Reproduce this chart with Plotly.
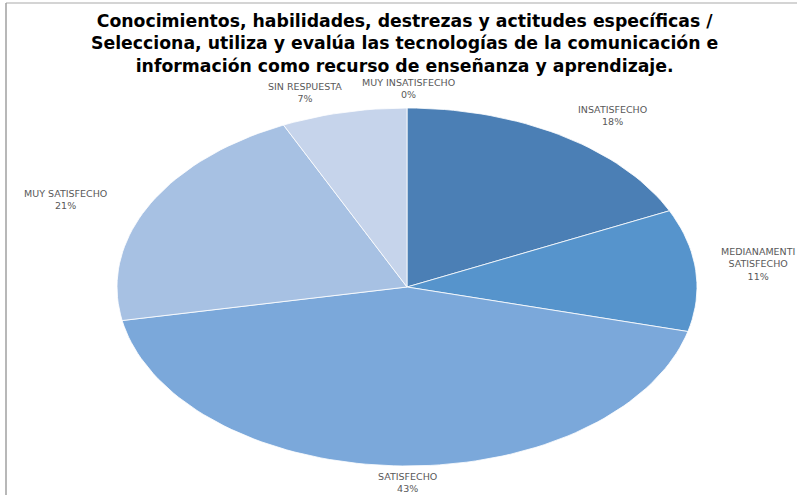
import numpy as np
import plotly.graph_objects as go

# data (clockwise from 12 o'clock)
categories = ['MUY INSATISFECHO', 'INSATISFECHO', 'MEDIANAMENTE SATISFECHO',
              'SATISFECHO', 'MUY SATISFECHO', 'SIN RESPUESTA']
label_text = ['MUY INSATISFECHO', 'INSATISFECHO', 'MEDIANAMENTI<br>SATISFECHO',
              'SATISFECHO', 'MUY SATISFECHO', 'SIN RESPUESTA']
values = [0, 18, 11, 43, 21, 7]

slice_colors = ['#3E6FA3', '#4B7FB5', '#5694CC', '#7BA8DA', '#A7C1E3', '#C6D4EB']
# pixel nudges for the outside labels (Excel places them a bit loosely)
label_dx = [1, 50, 62, 10, -83, -39]
label_dy = [-20, -20, -6, 17, -6, -20]

title_text = ('Conocimientos, habilidades, destrezas y actitudes específicas /<br>'
              'Selecciona, utiliza y evalúa las tecnologías de la comunicación e<br>'
              'información como recurso de enseñanza y aprendizaje.')

W, H = 797, 495
cx_px, cy_px, rx_px, ry_px = 407, 287, 290, 179


def slice_path(start_frac, end_frac):
    # unit circle in data space; axis ranges stretch it into the ellipse
    n = max(2, int(abs(end_frac - start_frac) * 200))
    t = np.linspace(start_frac, end_frac, n) * 2 * np.pi
    xs = np.concatenate([[0], np.sin(t), [0]])
    ys = np.concatenate([[0], np.cos(t), [0]])
    return xs, ys


fig = go.Figure()

total = sum(values)
cum = 0.0
annotations = []
for cat, lab, v, col, dx, dy in zip(categories, label_text, values, slice_colors, label_dx, label_dy):
    start = cum / total
    end = (cum + v) / total
    cum += v
    if v > 0:
        xs, ys = slice_path(start, end)
        fig.add_trace(go.Scatter(
            x=xs, y=ys,
            mode='lines',
            fill='toself',
            fillcolor=col,
            line=dict(color='rgba(255,255,255,0.8)', width=1),
            name=cat,
            hoverinfo='text',
            text=f'{cat}: {v}%',
            showlegend=False,
        ))
    mid = (start + end) / 2 * 2 * np.pi
    annotations.append(dict(
        x=np.sin(mid), y=np.cos(mid),
        xref='x', yref='y',
        text=f'{lab}<br>{round(100 * v / total)}%',
        showarrow=False,
        xshift=dx, yshift=-dy,
        font=dict(family='DejaVu Sans', size=9.5, color='#595959'),
        align='center',
    ))

annotations.append(dict(
    x=0.508, y=1, xref='paper', yref='paper',
    yanchor='top', yshift=-9,
    text=f'<b>{title_text}</b>',
    showarrow=False,
    font=dict(family='DejaVu Sans', size=17.3, color='#000000'),
    align='center',
))

x0 = -cx_px / rx_px
x1 = (W - cx_px) / rx_px
y1 = cy_px / ry_px
y0 = -(H - cy_px) / ry_px

fig.update_layout(
    width=W,
    height=H,
    margin=dict(l=0, r=0, t=0, b=0),
    paper_bgcolor='white',
    plot_bgcolor='white',
    xaxis=dict(range=[x0, x1], visible=False, fixedrange=True),
    yaxis=dict(range=[y0, y1], visible=False, fixedrange=True),
    annotations=annotations,
    shapes=[
        dict(type='line', xref='paper', yref='paper', x0=6 / W, x1=1, y0=1 - 3 / H, y1=1 - 3 / H,
             line=dict(color='#D4D4D4', width=2)),
        dict(type='line', xref='paper', yref='paper', x0=6 / W, x1=6 / W, y0=0, y1=1 - 3 / H,
             line=dict(color='#A0A0A0', width=1.5)),
    ],
)

fig.write_html('out.html', config={'displayModeBar': False})

# drop the browser's default 8px body margin so the figure sits at 0,0
with open('out.html', encoding='utf-8') as f:
    page = f.read()
page = page.replace('<body>', '<body style="margin:0">', 1)
with open('out.html', 'w', encoding='utf-8') as f:
    f.write(page)
